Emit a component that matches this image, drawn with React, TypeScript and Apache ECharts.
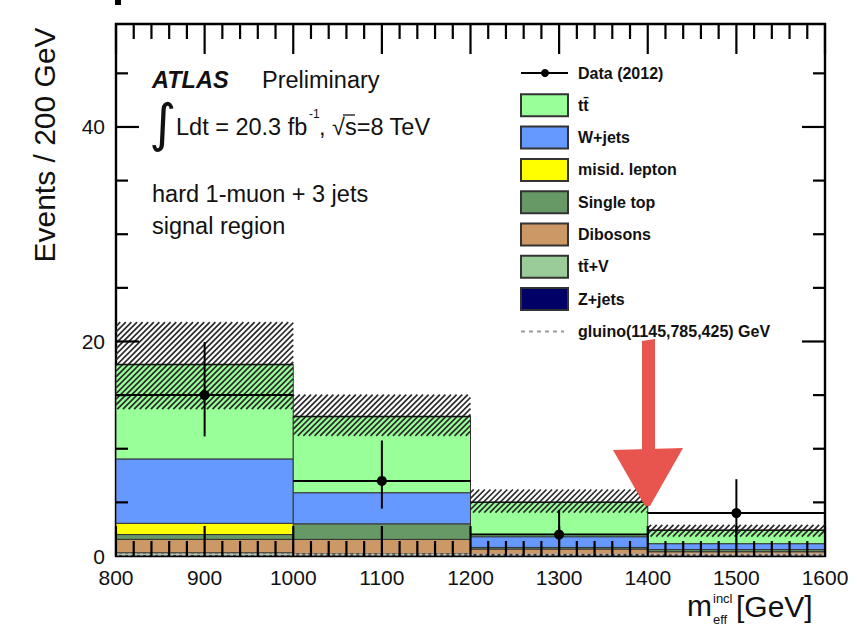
import React, { useEffect, useRef } from "react";
import * as echarts from "echarts";

// Bin edges of m_eff^incl [GeV]
const binEdges = [800, 1000, 1200, 1400, 1600];

// Background expectations per bin (events / 200 GeV), stacked bottom to top
const zJets = [0.05, 0.05, 0.05, 0.05];
const ttV = [0.25, 0.15, 0.1, 0.05];
const dibosons = [1.25, 1.35, 0.5, 0.3];
const singleTop = [0.45, 1.45, 0.15, 0.2];
const misidLepton = [1.05, 0.0, 0.0, 0.0];
const wJets = [6.0, 2.9, 1.0, 0.55];
const ttbar = [8.8, 7.1, 3.2, 1.25];

// Total background uncertainty band
const bandLow = [13.7, 11.2, 4.05, 1.8];
const bandHigh = [21.8, 15.05, 6.2, 2.9];

// Data (2012) with Poisson error bars
const dataCounts = [15, 7, 2, 4];
const dataErrUp = [4.96, 3.77, 2.3, 3.16];
const dataErrDown = [3.85, 2.58, 1.29, 1.91];

// Signal benchmark gluino(1145,785,425) GeV
const gluino = [0.15, 0.15, 0.15, 0.15];

// Axis ranges and tick spacing
const xMin = 800;
const xMax = 1600;
const xTickMajor = 100;
const xTickMinor = 20;
const yMin = 0;
const yMax = 49.6;
const yTickMajor = 20;
const yTickMinor = 5;

const FONT = "'Liberation Sans', Arial, Helvetica, sans-serif";

const components = [
  { name: "Z+jets", values: zJets, color: "#000066" },
  { name: "tt\u0304+V", values: ttV, color: "#99CC99" },
  { name: "Dibosons", values: dibosons, color: "#CC9966" },
  { name: "Single top", values: singleTop, color: "#669966" },
  { name: "misid. lepton", values: misidLepton, color: "#FFFF00" },
  { name: "W+jets", values: wJets, color: "#6699FF" },
  { name: "tt\u0304", values: ttbar, color: "#99FF99" },
];

const legendOrder = ["tt\u0304", "W+jets", "misid. lepton", "Single top", "Dibosons", "tt\u0304+V", "Z+jets"];

function hatch(x0: number, y0: number, x1: number, y1: number, step: number) {
  // Diagonal lines x + y = c, clipped to the rectangle
  const out: any[] = [];
  const cStart = Math.ceil((x0 + y0) / step) * step;
  for (let c = cStart; c <= x1 + y1; c += step) {
    const xa = Math.max(x0, c - y1);
    const xb = Math.min(x1, c - y0);
    if (xb > xa) {
      out.push({
        type: "line",
        shape: { x1: xa, y1: c - xa, x2: xb, y2: c - xb },
        style: { stroke: "#2a2a2a", lineWidth: 1.7 },
      });
    }
  }
  return out;
}

const isMultiple = (v: number, step: number) => Math.abs(v / step - Math.round(v / step)) < 1e-9;

export default function App() {
  const ref = useRef<HTMLDivElement>(null);

  useEffect(() => {
    if (!ref.current) return;
    const chart = echarts.init(ref.current, null, { renderer: "svg" });

    const nBins = binEdges.length - 1;
    const cumulative = new Array(nBins).fill(0);
    const stackSeries: any[] = components.map((comp) => {
      const data = [];
      for (let i = 0; i < nBins; i++) {
        const lo = cumulative[i];
        const hi = lo + comp.values[i];
        cumulative[i] = hi;
        data.push([binEdges[i], binEdges[i + 1], lo, hi]);
      }
      return {
        type: "custom",
        name: comp.name,
        z: 2,
        clip: true,
        data,
        renderItem: (params: any, api: any) => {
          const p0 = api.coord([api.value(0), api.value(2)]);
          const p1 = api.coord([api.value(1), api.value(3)]);
          if (p0[1] - p1[1] < 0.01) return null;
          return {
            type: "rect",
            shape: { x: p0[0], y: p1[1], width: p1[0] - p0[0], height: p0[1] - p1[1] },
            style: { fill: comp.color, stroke: "#333", lineWidth: 1 },
          };
        },
      };
    });

    const totals = cumulative.slice();
    const totalData = totals.map((t, i) => [binEdges[i], binEdges[i + 1], t]);
    const bandData = bandLow.map((lo, i) => [binEdges[i], binEdges[i + 1], lo, bandHigh[i]]);
    const dataPoints = dataCounts.map((n, i) => [
      (binEdges[i] + binEdges[i + 1]) / 2,
      n,
      binEdges[i],
      binEdges[i + 1],
      n - dataErrDown[i],
      n + dataErrUp[i],
    ]);
    const gluinoData = gluino.map((g, i) => [binEdges[i], binEdges[i + 1], g]);

    const legendX = 521;
    const legendY0 = 73;
    const legendDy = 32.3;
    const legendText = (label: string, row: number) => ({
      type: "text",
      z: 100,
      x: 578,
      y: legendY0 + legendDy * row,
      style: {
        text: label,
        font: `bold 16px ${FONT}`,
        fill: "#111",
        textVerticalAlign: "middle",
      },
    });

    const legendGraphics: any[] = [];
    legendGraphics.push({
      type: "line",
      z: 100,
      shape: { x1: legendX, y1: legendY0, x2: 568, y2: legendY0 },
      style: { stroke: "#000", lineWidth: 2 },
    });
    legendGraphics.push({
      type: "circle",
      z: 100,
      shape: { cx: 545, cy: legendY0, r: 4 },
      style: { fill: "#000" },
    });
    legendGraphics.push(legendText("Data (2012)", 0));
    legendOrder.forEach((nm, k) => {
      const comp = components.find((c) => c.name === nm)!;
      const yc = legendY0 + legendDy * (k + 1);
      legendGraphics.push({
        type: "rect",
        z: 100,
        shape: { x: legendX, y: yc - 11, width: 47, height: 22 },
        style: { fill: comp.color, stroke: "#333", lineWidth: 2 },
      });
      legendGraphics.push(legendText(nm, k + 1));
    });
    const gRow = legendY0 + legendDy * 8;
    legendGraphics.push({
      type: "line",
      z: 100,
      shape: { x1: legendX, y1: gRow, x2: 564, y2: gRow },
      style: { stroke: "#999", lineWidth: 2, lineDash: [4, 4] },
    });
    legendGraphics.push(legendText("gluino(1145,785,425) GeV", 8));

    const baseGraphics: any[] = [
      { type: "rect", z: 100, shape: { x: 115, y: 0, width: 6, height: 5 }, style: { fill: "#000" } },
      // Axis titles
      {
        type: "text",
        z: 100,
        x: 44,
        y: 145,
        rotation: Math.PI / 2,
        style: { text: "Events / 200 GeV", font: `30px ${FONT}`, fill: "#111", textAlign: "center", textVerticalAlign: "middle" },
      },
      { type: "text", z: 100, x: 687, y: 605, style: { text: "m", font: `30px ${FONT}`, fill: "#111", textVerticalAlign: "middle" } },
      { type: "text", z: 100, x: 713, y: 598, style: { text: "incl", font: `13px ${FONT}`, fill: "#111", textVerticalAlign: "middle" } },
      { type: "text", z: 100, x: 713, y: 619, style: { text: "eff", font: `13px ${FONT}`, fill: "#111", textVerticalAlign: "middle" } },
      { type: "text", z: 100, x: 736, y: 606, style: { text: "[GeV]", font: `30px ${FONT}`, fill: "#111", textVerticalAlign: "middle" } },
      // Labels
      { type: "text", z: 100, x: 152, y: 80, style: { text: "ATLAS", font: `italic bold 23.5px ${FONT}`, fill: "#111", textVerticalAlign: "middle" } },
      { type: "text", z: 100, x: 262, y: 80, style: { text: "Preliminary", font: `23.5px ${FONT}`, fill: "#111", textVerticalAlign: "middle" } },
      { type: "text", z: 100, x: 149, y: 123, style: { text: "\u222B", font: `52px 'DejaVu Sans', ${FONT}`, fill: "#111", textVerticalAlign: "middle" } },
      { type: "text", z: 100, x: 176, y: 127, style: { text: "Ldt = 20.3 fb", font: `23.5px ${FONT}`, fill: "#111", textVerticalAlign: "middle" } },
      { type: "text", z: 100, x: 309, y: 114, style: { text: "-1", font: `12px ${FONT}`, fill: "#111", textVerticalAlign: "middle" } },
      { type: "text", z: 100, x: 319, y: 127, style: { text: ", \u221As=8 TeV", font: `23.5px ${FONT}`, fill: "#111", textVerticalAlign: "middle" } },
      { type: "line", z: 100, shape: { x1: 343, y1: 115, x2: 355, y2: 115 }, style: { stroke: "#111", lineWidth: 1.3 } },
      { type: "text", z: 100, x: 152, y: 194, style: { text: "hard 1-muon + 3 jets", font: `23.5px ${FONT}`, fill: "#111", textVerticalAlign: "middle" } },
      { type: "text", z: 100, x: 152, y: 226, style: { text: "signal region", font: `23.5px ${FONT}`, fill: "#111", textVerticalAlign: "middle" } },
      ...legendGraphics,
      // Red arrow annotation at 1400 GeV
      {
        type: "polygon",
        z: 100,
        shape: { points: [[642, 341], [655, 339], [655, 452], [642, 452]] },
        style: { fill: "#E8554F" },
      },
      {
        type: "polygon",
        z: 100,
        shape: { points: [[613, 450], [683, 448], [650, 506], [645, 506]] },
        style: { fill: "#E8554F" },
      },
    ];

    const option: any = {
      animation: false,
      backgroundColor: "#fff",
      grid: { left: 116, right: 32, top: 24, bottom: 72, show: true, borderColor: "#000", borderWidth: 2.4, backgroundColor: "transparent" },
      xAxis: {
        type: "value",
        min: xMin,
        max: xMax,
        interval: xTickMajor,
        axisLine: { show: false, onZero: false },
        axisTick: { show: false },
        splitLine: { show: false },
        axisLabel: { show: true, fontSize: 21, color: "#111", fontFamily: FONT, margin: 11, formatter: (v: number) => String(v) },
      },
      yAxis: {
        type: "value",
        min: yMin,
        max: yMax,
        interval: yTickMajor,
        axisLine: { show: false, onZero: false },
        axisTick: { show: false },
        splitLine: { show: false },
        axisLabel: {
          show: true,
          fontSize: 21,
          color: "#111",
          fontFamily: FONT,
          margin: 11,
          formatter: (v: number) => (v % yTickMajor === 0 ? String(v) : ""),
        },
      },
      series: [
        ...stackSeries,
        {
          type: "custom",
          name: "uncertainty",
          z: 3,
          clip: true,
          data: bandData,
          renderItem: (params: any, api: any) => {
            const p0 = api.coord([api.value(0), api.value(3)]);
            const p1 = api.coord([api.value(1), api.value(2)]);
            return { type: "group", children: hatch(p0[0], p0[1], p1[0], p1[1], 5.6) };
          },
        },
        {
          type: "custom",
          name: "total",
          z: 4,
          clip: true,
          data: totalData,
          renderItem: (params: any, api: any) => {
            const a = api.coord([api.value(0), api.value(2)]);
            const b = api.coord([api.value(1), api.value(2)]);
            return {
              type: "line",
              shape: { x1: a[0], y1: a[1], x2: b[0], y2: b[1] },
              style: { stroke: "#111", lineWidth: 1.5 },
            };
          },
        },
        {
          type: "custom",
          name: "gluino",
          z: 5,
          clip: true,
          data: gluinoData,
          renderItem: (params: any, api: any) => {
            const a = api.coord([api.value(0), api.value(2)]);
            const b = api.coord([api.value(1), api.value(2)]);
            return {
              type: "line",
              shape: { x1: a[0], y1: a[1], x2: b[0], y2: b[1] },
              style: { stroke: "#bbb", lineWidth: 2, lineDash: [3, 3] },
            };
          },
        },
        {
          type: "custom",
          name: "Data (2012)",
          z: 6,
          clip: true,
          data: dataPoints,
          renderItem: (params: any, api: any) => {
            const c = api.coord([api.value(0), api.value(1)]);
            const l = api.coord([api.value(2), api.value(1)]);
            const r = api.coord([api.value(3), api.value(1)]);
            const lo = api.coord([api.value(0), api.value(4)]);
            const hi = api.coord([api.value(0), api.value(5)]);
            return {
              type: "group",
              children: [
                { type: "line", shape: { x1: l[0], y1: l[1], x2: r[0], y2: r[1] }, style: { stroke: "#000", lineWidth: 2 } },
                { type: "line", shape: { x1: lo[0], y1: lo[1], x2: hi[0], y2: hi[1] }, style: { stroke: "#000", lineWidth: 2 } },
                { type: "circle", shape: { cx: c[0], cy: c[1], r: 5 }, style: { fill: "#000" } },
              ],
            };
          },
        },
      ],
      graphic: baseGraphics,
    };

    chart.setOption(option);

    // Inward tick marks on all four frame edges, positioned through the axis scales
    const px = (x: number, y: number) => chart.convertToPixel({ gridIndex: 0 }, [x, y]) as number[];
    const tickGraphics: any[] = [];
    const tickStroke = () => ({ stroke: "#000", lineWidth: 2.2 });
    for (let v = xMin; v <= xMax + 1e-9; v += xTickMinor) {
      const len = isMultiple(v - xMin, xTickMajor) ? 30 : 15;
      const b = px(v, yMin);
      const t = px(v, yMax);
      tickGraphics.push({ type: "line", z: 90, shape: { x1: b[0], y1: b[1], x2: b[0], y2: b[1] - len }, style: tickStroke() });
      tickGraphics.push({ type: "line", z: 90, shape: { x1: t[0], y1: t[1], x2: t[0], y2: t[1] + len }, style: tickStroke() });
    }
    for (let v = yMin + yTickMinor; v < yMax; v += yTickMinor) {
      const len = isMultiple(v, yTickMajor) ? 23 : 12;
      const l = px(xMin, v);
      const r = px(xMax, v);
      tickGraphics.push({ type: "line", z: 90, shape: { x1: l[0], y1: l[1], x2: l[0] + len, y2: l[1] }, style: tickStroke() });
      tickGraphics.push({ type: "line", z: 90, shape: { x1: r[0], y1: r[1], x2: r[0] - len, y2: r[1] }, style: tickStroke() });
    }
    chart.setOption({ graphic: [...baseGraphics, ...tickGraphics] });

    return () => chart.dispose();
  }, []);

  return <div ref={ref} style={{ width: 857, height: 628, position: "absolute", left: 0, top: 0 }} />;
}
